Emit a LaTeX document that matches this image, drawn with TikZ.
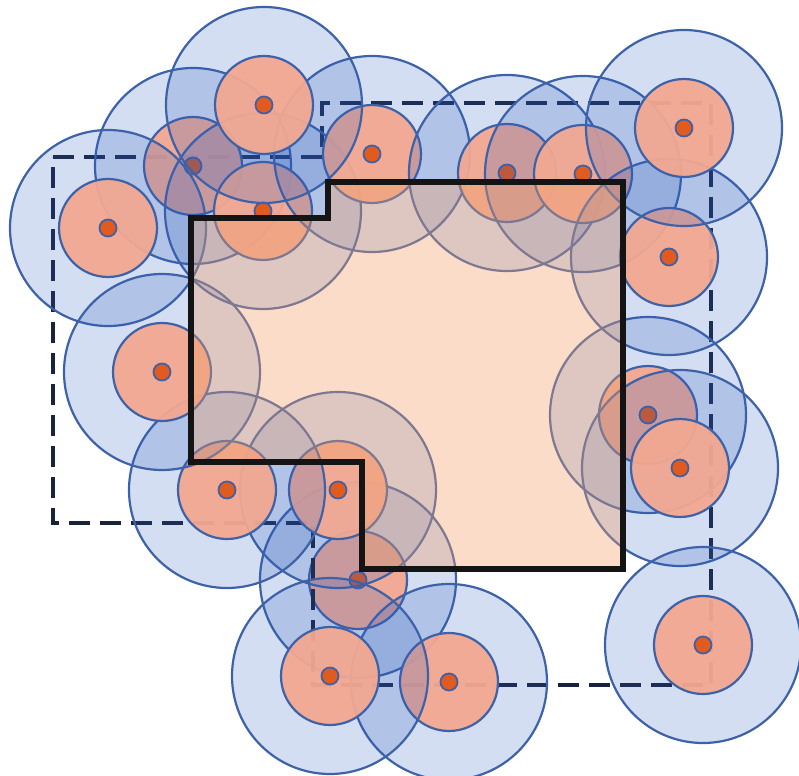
\documentclass[tikz,border=0pt]{standalone}
\definecolor{cstroke}{RGB}{62,98,168}
\definecolor{cblue}{RGB}{40,90,190}
\definecolor{csalmon}{RGB}{242,168,146}
\definecolor{cdot}{RGB}{225,90,30}
\definecolor{cdash}{RGB}{25,35,60}
\definecolor{cpeach}{RGB}{242,160,105}
\newcommand\sensorcirc[2]{%
  \draw[ringouter] (#1,#2) circle[radius=98];
  \draw[ringinner] (#1,#2) circle[radius=49];
  \draw[sensordot] (#1,#2) circle[radius=8.5];}
\begin{document}
\begin{tikzpicture}[x=1pt,y=-1pt,
 ringouter/.style={draw=cstroke, line width=2.2pt, fill=cblue, fill opacity=0.2},
 ringinner/.style={draw=cstroke, line width=2.2pt, fill=csalmon, fill opacity=0.95},
 sensordot/.style={draw=cstroke, line width=1.8pt, fill=cdot},
 dashline/.style={draw=cdash, line width=4.5pt, dash pattern=on 21pt off 10pt},
 region/.style={fill=cpeach, fill opacity=0.36},
 regionborder/.style={draw=black!92, line width=5.5pt, line join=miter}]
\useasboundingbox (0,0) rectangle (799,775);
\fill[white] (0,0) rectangle (799,775);
% circle drawn below the dashed boundary
\sensorcirc{358}{580}
% dashed boundary
\draw[dashline] (53,157) -- (322,157) -- (322,103) -- (711,103) -- (711,685)
  -- (313,685) -- (313,523) -- (53,523) -- cycle;
% remaining circles, in drawing order
\sensorcirc{193}{166}
\sensorcirc{263}{211}
\sensorcirc{372}{154}
\sensorcirc{507}{173}
\sensorcirc{583}{174}
\sensorcirc{338}{490}
\sensorcirc{227}{490}
\sensorcirc{648}{415}
\sensorcirc{680}{468}
\sensorcirc{669}{257}
\sensorcirc{684}{128}
\sensorcirc{264}{105}
\sensorcirc{108}{228}
\sensorcirc{162}{372}
\sensorcirc{449}{682}
\sensorcirc{330}{676}
\sensorcirc{703}{645}
% region
\path[region] (191,218) -- (328,218) -- (328,182) -- (623,182) -- (623,569)
  -- (362,569) -- (362,462) -- (191,462) -- cycle;
\draw[regionborder] (191,218) -- (328,218) -- (328,182) -- (623,182) -- (623,569)
  -- (362,569) -- (362,462) -- (191,462) -- cycle;
\end{tikzpicture}
\end{document}
